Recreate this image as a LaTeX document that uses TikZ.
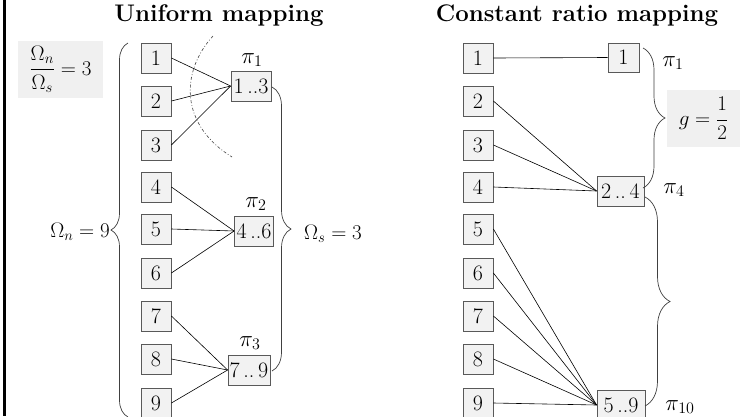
\RequirePackage{fix-cm}
\documentclass[tikz,border=0pt]{standalone}
\usepackage{amsmath}
\usepackage{fontspec}
\usetikzlibrary{decorations.pathreplacing,calc}
\definecolor{boxfill}{HTML}{F2F2F2}
\definecolor{boxline}{HTML}{595959}
\definecolor{notefill}{HTML}{F0F0F0}
\definecolor{braceline}{HTML}{404040}
\begin{document}
\begin{tikzpicture}[x=1pt,y=-1pt,
  cell/.style={draw=boxline, fill=boxfill, line width=0.8pt, minimum width=30pt,
    minimum height=30pt, inner sep=0pt, font=\fontsize{22}{24}\selectfont},
  link/.style={line width=0.6pt, black},
  curly/.style={draw=braceline, line width=0.7pt, decorate,
    decoration={brace, amplitude=#1, aspect=0.5}},
  lbl/.style={font=\fontsize{21}{24}\selectfont, inner sep=0pt},
  part/.style={font=\fontsize{23}{26}\selectfont, inner sep=0pt},
  heading/.style={font=\fontsize{24}{28}\selectfont\bfseries, inner sep=0pt},
  note/.style={fill=notefill, inner sep=0pt, font=\fontsize{21}{24}\selectfont}]

\fill[white] (0,0) rectangle (740,416);
\useasboundingbox (0,0) rectangle (740,416);

% frame edge on the left
\draw[line width=3pt] (4.5,0) -- (4.5,416);

% ---------------- Uniform mapping ----------------
\node[heading] (t1) at (219,16) {Uniform mapping};

\node[note, minimum width=85pt, minimum height=57pt] (ratio) at (60.5,69.5)
  {$\dfrac{\Omega_n}{\Omega_s} = 3$};

\foreach \i/\y in {1/58,2/101,3/145,4/187,5/229,6/273,7/316,8/359,9/403}
  \node[cell] (L\i) at (156,\y) {\i};

\node[cell, minimum width=40pt] (U1) at (251,86)  {1\,..3};
\node[cell, minimum width=39pt] (U2) at (254,231) {4\,..6};
\node[cell, minimum width=42pt] (U3) at (249,370) {7\,..\,9};

\foreach \i in {1,2,3} \draw[link] (L\i.east) -- (U1.west);
\foreach \i in {4,5,6} \draw[link] (L\i.east) -- (U2.west);
\foreach \i in {7,8,9} \draw[link] (L\i.east) -- (U3.west);

\node[part] (p1) at (252,60)  {$\pi_1$};
\node[part] (p2) at (256,204) {$\pi_2$};
\node[part] (p3) at (250,343) {$\pi_3$};

% dash-dotted cut line
\draw[braceline, line width=0.6pt, dash pattern=on 3pt off 2pt on 0.8pt off 2pt]
  (213,36) .. controls (180,72) and (180,125) .. (232,157);

% braces
\coordinate (nb) at (128,417);
\coordinate (nt) at (128,43);
\draw[curly=17pt] (nb) -- (nt);
\node[lbl, anchor=east] (omn) at (110,232) {$\Omega_n = 9$};

\coordinate (st) at (272,87);
\coordinate (sb) at (272,371);
\draw[curly=19pt] (st) -- (sb);
\node[lbl, anchor=west] (oms) at (304,234) {$\Omega_s = 3$};

% ---------------- Constant ratio mapping ----------------
\node[heading] (t2) at (577,16) {Constant ratio mapping};

\foreach \i/\y in {1/58,2/101,3/145,4/187,5/229,6/273,7/316,8/359,9/403}
  \node[cell] (R\i) at (478,\y) {\i};

\node[cell, minimum width=31pt, minimum height=29pt] (C1) at (623.5,57.5) {1};
\node[cell, minimum width=47pt] (C2) at (620.5,191) {2\,..\,4};
\node[cell, minimum width=48pt] (C3) at (621,405) {5\,..9};

\draw[link] (R1.east) -- (C1.west);
\foreach \i in {2,3,4} \draw[link] (R\i.east) -- (C2.west);
\foreach \i in {5,6,7,8,9} \draw[link] (R\i.east) -- (C3.west);

\node[part] (q1) at (673,63)  {$\pi_1$};
\node[part] (q4) at (674,190) {$\pi_4$};
\node[part] (q10) at (680,407) {$\pi_{10}$};

\coordinate (g1) at (643,48);
\coordinate (g2) at (643,188);
\draw[curly=22pt] (g1) -- (g2);
\coordinate (h1) at (645,197);
\coordinate (h2) at (645,406);
\draw[curly=25pt] (h1) -- (h2);

\node[note, minimum width=73pt, minimum height=57pt] (gain) at (703.5,118.5)
  {$g = \dfrac{1}{2}$};
\end{tikzpicture}
\end{document}
